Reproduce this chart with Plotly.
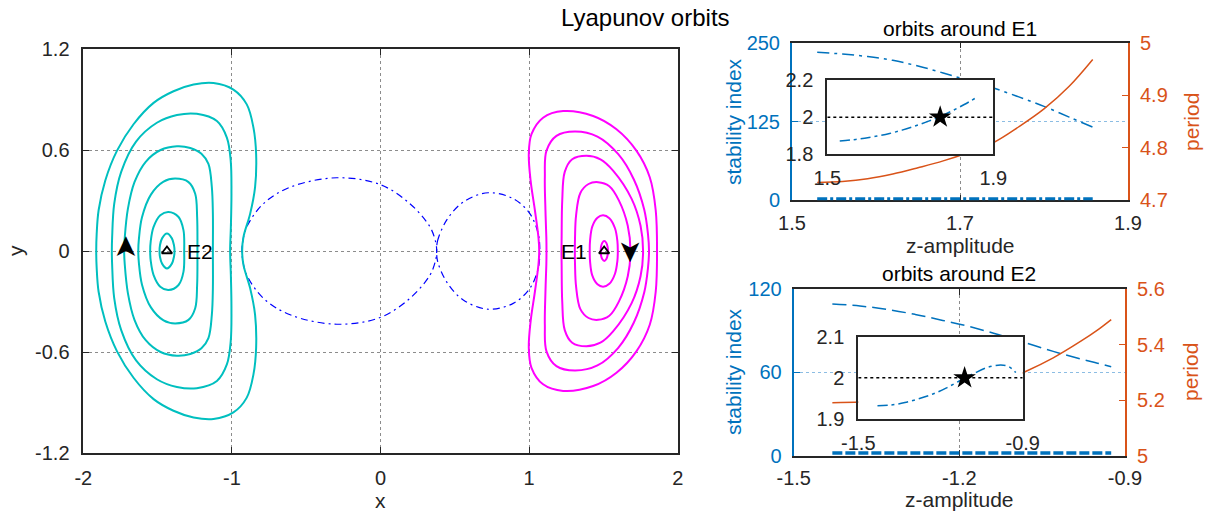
import plotly.graph_objects as go

W, H = 1213, 511
FONT = "Liberation Sans, Arial, Helvetica, sans-serif"
DARK = "#262626"
BLUE = "#0072BD"
ORANGE = "#D95319"
CYAN = "#00BFBF"
MAGENTA = "#FF00FF"
ZVC_BLUE = "#0000FF"
GRID = "#8c8c8c"
LIGHT_BLUE_GRID = "#8cbde3"

# ---------------- main panel: upper halves of the orbits (mirrored about y = 0) ----------------
e2_orbit_1 = [(-1.487, 0.0), (-1.484, 0.035), (-1.470, 0.075), (-1.437, 0.104), (-1.404, 0.075),
              (-1.390, 0.035), (-1.386, 0.0)]
e2_orbit_2 = [(-1.550, 0.0), (-1.546, 0.06), (-1.527, 0.143), (-1.482, 0.212), (-1.427, 0.232),
              (-1.359, 0.202), (-1.326, 0.124), (-1.321, 0.0)]
e2_orbit_3 = [(-1.630, 0.0), (-1.626, 0.07), (-1.605, 0.20), (-1.545, 0.335), (-1.460, 0.412),
              (-1.382, 0.430), (-1.292, 0.409), (-1.247, 0.340), (-1.234, 0.202), (-1.232, 0.0)]
e2_orbit_4 = [(-1.725, 0.0), (-1.721, 0.08), (-1.700, 0.25), (-1.655, 0.41), (-1.580, 0.530),
              (-1.480, 0.600), (-1.370, 0.622), (-1.280, 0.612), (-1.205, 0.578), (-1.158, 0.517),
              (-1.135, 0.379), (-1.128, 0.222), (-1.128, 0.0)]
e2_orbit_5 = [(-1.808, 0.0), (-1.806, 0.08), (-1.792, 0.28), (-1.745, 0.470), (-1.645, 0.650),
              (-1.505, 0.762), (-1.370, 0.808), (-1.236, 0.815), (-1.101, 0.772), (-1.034, 0.674),
              (-1.008, 0.537), (-1.003, 0.340), (-1.007, 0.143), (-1.012, 0.0)]
e2_orbit_6 = [(-1.913, 0.0), (-1.910, 0.10), (-1.897, 0.242), (-1.852, 0.419), (-1.773, 0.596),
              (-1.662, 0.753), (-1.527, 0.880), (-1.393, 0.949), (-1.258, 0.989), (-1.124, 0.998),
              (-0.990, 0.959), (-0.900, 0.871), (-0.855, 0.733), (-0.837, 0.576), (-0.844, 0.379),
              (-0.877, 0.222), (-0.922, 0.084), (-0.931, 0.0)]

e1_orbit_1 = [(1.482, 0.0), (1.484, 0.025), (1.492, 0.048), (1.506, 0.059), (1.520, 0.048),
              (1.528, 0.025), (1.531, 0.0)]
e1_orbit_2 = [(1.408, 0.0), (1.410, 0.06), (1.425, 0.145), (1.460, 0.198), (1.498, 0.212),
              (1.540, 0.195), (1.578, 0.135), (1.594, 0.06), (1.597, 0.0)]
e1_orbit_3 = [(1.308, 0.0), (1.309, 0.08), (1.316, 0.210), (1.345, 0.345), (1.400, 0.398),
              (1.464, 0.409), (1.540, 0.385), (1.604, 0.301), (1.664, 0.150), (1.682, 0.0)]
e1_orbit_4 = [(1.218, 0.0), (1.219, 0.08), (1.223, 0.300), (1.240, 0.470), (1.290, 0.545),
              (1.386, 0.566), (1.480, 0.545), (1.565, 0.478), (1.690, 0.310), (1.750, 0.150),
              (1.767, 0.0)]
e1_orbit_5 = [(1.117, 0.0), (1.116, 0.08), (1.110, 0.242), (1.106, 0.438), (1.117, 0.596),
              (1.184, 0.684), (1.308, 0.710), (1.460, 0.680), (1.600, 0.575), (1.705, 0.425),
              (1.775, 0.245), (1.800, 0.100), (1.807, 0.0)]
e1_orbit_6 = [(1.068, 0.0), (1.063, 0.08), (1.039, 0.242), (1.010, 0.419), (0.998, 0.576),
              (1.016, 0.694), (1.094, 0.792), (1.229, 0.831), (1.431, 0.802), (1.588, 0.723),
              (1.722, 0.596), (1.812, 0.438), (1.852, 0.242), (1.861, 0.0)]

zvc_left = [(-0.933, 0.0), (-0.928, 0.05), (-0.900, 0.143), (-0.788, 0.281), (-0.608, 0.379),
            (-0.294, 0.435), (-0.003, 0.395), (0.198, 0.281), (0.333, 0.143), (0.372, 0.05),
            (0.378, 0.0)]
zvc_right = [(0.378, 0.0), (0.384, 0.06), (0.445, 0.183), (0.557, 0.291), (0.725, 0.346),
             (0.893, 0.311), (1.005, 0.222), (1.061, 0.104), (1.072, 0.0)]

eq_names = ["E1", "E2"]
eq_x = [1.505, -1.437]
eq_y = [0.0, 0.0]
eq_label_x = [1.30, -1.215]
arrow_x = [1.684, -1.722]
arrow_y = [0.0, 0.02]
arrow_angle = [90, -90]  # rotation of a right-pointing arrowhead glyph: 90 = down, -90 = up

main_xticks = [-2, -1, 0, 1, 2]
main_xticktext = ["-2", "-1", "0", "1", "2"]
main_yticks = [-1.2, -0.6, 0, 0.6, 1.2]
main_yticktext = ["-1.2", "-0.6", "0", "0.6", "1.2"]

# ---------------- orbits around E1 ----------------
z1 = [1.53, 1.56, 1.59, 1.62, 1.65, 1.68, 1.71, 1.74, 1.77, 1.80, 1.83, 1.858]
s1_big = [235, 232, 228, 222, 213, 202, 190, 178, 164, 149, 132, 116]
p1 = [4.734, 4.736, 4.741, 4.750, 4.762, 4.775, 4.791, 4.810, 4.840, 4.874, 4.917, 4.968]
s1_small = [1.872, 1.878, 1.887, 1.898, 1.912, 1.930, 1.951, 1.975, 2.001, 2.033, 2.068, 2.104]
star1 = (1.772, 2.0)
e1_xticks = [1.5, 1.7, 1.9]
e1_sticks = [0, 125, 250]
e1_pticks = [4.7, 4.8, 4.9, 5]
inset1_xr = [1.5, 1.9]
inset1_yticks = [1.8, 2.0, 2.2]
inset1_yticktext = ["1.8", "2", "2.2"]

# ---------------- orbits around E2 ----------------
z2 = [-1.43, -1.38, -1.33, -1.28, -1.23, -1.18, -1.13, -1.08, -1.03, -0.98, -0.95, -0.925]
s2_big = [109.2, 107.8, 105.2, 101.7, 97.4, 92.8, 87.2, 81.2, 75.1, 69.6, 66.6, 64.0]
p2 = [5.191, 5.193, 5.198, 5.207, 5.220, 5.238, 5.263, 5.303, 5.352, 5.412, 5.452, 5.490]
s2_small = [1.932, 1.934, 1.940, 1.949, 1.960, 1.975, 1.993, 2.010, 2.025, 2.031, 2.027, 2.013]
star2 = (-1.112, 2.0)
e2_xticks = [-1.5, -1.2, -0.9]
e2_xticktext = ["-1.5", "-1.2", "-0.9"]
e2_sticks = [0, 60, 120]
e2_pticks = [5, 5.2, 5.4, 5.6]
inset2_xr = [-1.5, -0.9]
inset2_yticks = [1.9, 2.0, 2.1]
inset2_yticktext = ["1.9", "2", "2.1"]

threshold = 2.0


def closed(points):
    xs = [p[0] for p in points]
    ys = [p[1] for p in points]
    xs_low = xs[-2::-1]
    ys_low = [-v for v in ys[-2::-1]]
    return xs + xs_low, ys + ys_low


fig = go.Figure()

# ---- main panel ----
for pts in [zvc_left, zvc_right]:
    xs, ys = closed(pts)
    fig.add_trace(go.Scatter(x=xs, y=ys, mode="lines", xaxis="x", yaxis="y",
                             line=dict(color=ZVC_BLUE, width=1.2, dash="7px,4px,2px,4px",
                                       shape="spline", smoothing=1.0)))
for pts in [e2_orbit_1, e2_orbit_2, e2_orbit_3, e2_orbit_4, e2_orbit_5, e2_orbit_6]:
    xs, ys = closed(pts)
    fig.add_trace(go.Scatter(x=xs, y=ys, mode="lines", xaxis="x", yaxis="y",
                             line=dict(color=CYAN, width=2, shape="spline", smoothing=1.0)))
for pts in [e1_orbit_1, e1_orbit_2, e1_orbit_3, e1_orbit_4, e1_orbit_5, e1_orbit_6]:
    xs, ys = closed(pts)
    fig.add_trace(go.Scatter(x=xs, y=ys, mode="lines", xaxis="x", yaxis="y",
                             line=dict(color=MAGENTA, width=2, shape="spline", smoothing=1.0)))
fig.add_trace(go.Scatter(x=eq_x, y=eq_y, mode="markers", xaxis="x", yaxis="y",
                         marker=dict(symbol="triangle-up-open", size=9, color="black",
                                     line=dict(width=1.8, color="black"))))

# ---- E1 panel ----
fig.add_trace(go.Scatter(x=z1, y=s1_big, mode="lines", xaxis="x2", yaxis="y2",
                         line=dict(color=BLUE, width=1.5, dash="12px,5px,3px,5px", shape="spline")))
fig.add_trace(go.Scatter(x=z1, y=s1_small, mode="lines", xaxis="x2", yaxis="y2",
                         line=dict(color=BLUE, width=3.5, dash="10px,3px,3px,3px")))
fig.add_trace(go.Scatter(x=z1, y=p1, mode="lines", xaxis="x2", yaxis="y3",
                         line=dict(color=ORANGE, width=1.5, shape="spline")))

# ---- E2 panel ----
fig.add_trace(go.Scatter(x=z2, y=s2_big, mode="lines", xaxis="x3", yaxis="y4",
                         line=dict(color=BLUE, width=1.5, dash="14px,6px", shape="spline")))
fig.add_trace(go.Scatter(x=z2, y=s2_small, mode="lines", xaxis="x3", yaxis="y4",
                         line=dict(color=BLUE, width=3.5, dash="10px,3px")))
fig.add_trace(go.Scatter(x=z2, y=p2, mode="lines", xaxis="x3", yaxis="y5",
                         line=dict(color=ORANGE, width=1.5, shape="spline")))

# ---- inset 1 ----
fig.add_trace(go.Scatter(x=inset1_xr, y=[threshold, threshold], mode="lines", xaxis="x4", yaxis="y6",
                         line=dict(color="black", width=1.5, dash="dot")))
fig.add_trace(go.Scatter(x=z1, y=s1_small, mode="lines", xaxis="x4", yaxis="y6",
                         line=dict(color=BLUE, width=1.5, dash="10px,4px,3px,4px", shape="spline")))
fig.add_trace(go.Scatter(x=[star1[0]], y=[star1[1]], mode="markers", xaxis="x4", yaxis="y6",
                         marker=dict(symbol="star", size=17, color="black")))

# ---- inset 2 ----
fig.add_trace(go.Scatter(x=inset2_xr, y=[threshold, threshold], mode="lines", xaxis="x5", yaxis="y7",
                         line=dict(color="black", width=1.5, dash="dot")))
fig.add_trace(go.Scatter(x=z2, y=s2_small, mode="lines", xaxis="x5", yaxis="y7",
                         line=dict(color=BLUE, width=1.5, dash="10px,4px,3px,4px", shape="spline")))
fig.add_trace(go.Scatter(x=[star2[0]], y=[star2[1]], mode="markers", xaxis="x5", yaxis="y7",
                         marker=dict(symbol="star", size=17, color="black")))

tickfont = dict(family=FONT, size=20, color=DARK)
blue_font = dict(family=FONT, size=20, color=BLUE)
orange_font = dict(family=FONT, size=20, color=ORANGE)


def box_x(domain, anchor, rng, tickvals, ticktext=None, grid=True, layer="above traces", standoff=6):
    return dict(domain=domain, anchor=anchor, range=rng, tickvals=tickvals,
                ticktext=ticktext if ticktext else [str(v) for v in tickvals],
                ticks="inside", ticklen=6, tickwidth=1, tickcolor=DARK,
                showline=True, linewidth=1.5, linecolor=DARK, mirror="ticks",
                showgrid=grid, gridcolor=GRID, griddash="dot", gridwidth=1,
                zeroline=False, tickfont=tickfont, ticklabelstandoff=standoff, layer=layer)


def fmt(v):
    return "%g" % v


main_x = box_x([83.3 / W, 677.7 / W], "y", [-2, 2], main_xticks, main_xticktext)
main_y = dict(domain=[(H - 453) / H, (H - 49) / H], anchor="x", range=[-1.2, 1.2],
              tickvals=main_yticks, ticktext=main_yticktext,
              ticks="inside", ticklen=6, tickwidth=1, tickcolor=DARK,
              showline=True, linewidth=1.5, linecolor=DARK, mirror="ticks",
              showgrid=True, gridcolor=GRID, griddash="dot", gridwidth=1,
              zeroline=False, tickfont=tickfont, ticklabelstandoff=8)

tr_dom_x = [792 / W, 1128 / W]
tr_dom_y = [(H - 200.3) / H, (H - 42.7) / H]
br_dom_x = [793.7 / W, 1125 / W]
br_dom_y = [(H - 455.7) / H, (H - 289) / H]


def left_axis(domain, anchor, rng, tickvals):
    return dict(domain=domain, anchor=anchor, range=rng, tickvals=tickvals,
                ticktext=[fmt(v) for v in tickvals],
                ticks="inside", ticklen=6, tickcolor=BLUE, showline=True, linewidth=2,
                linecolor=BLUE, mirror=False, showgrid=True, gridcolor=LIGHT_BLUE_GRID,
                griddash="dot", gridwidth=1.2, zeroline=False, tickfont=blue_font,
                ticklabelstandoff=6)


def right_axis(overlay, anchor, rng, tickvals):
    return dict(overlaying=overlay, anchor=anchor, side="right", range=rng, tickvals=tickvals,
                ticktext=[fmt(v) for v in tickvals],
                ticks="inside", ticklen=6, tickcolor=ORANGE, showline=True, linewidth=2,
                linecolor=ORANGE, showgrid=False, zeroline=False, tickfont=orange_font,
                ticklabelstandoff=6)


def inset_x(domain, anchor, rng, ticktext):
    return dict(domain=domain, anchor=anchor, range=rng, tickvals=rng, ticktext=ticktext,
                ticks="", showline=True, linewidth=2, linecolor=DARK, mirror=True,
                showgrid=False, zeroline=False, tickfont=tickfont, ticklabelstandoff=5)


def inset_y(domain, anchor, rng, tickvals, ticktext):
    return dict(domain=domain, anchor=anchor, range=rng, tickvals=tickvals, ticktext=ticktext,
                ticks="", showline=True, linewidth=2, linecolor=DARK, mirror=True,
                showgrid=False, zeroline=False, tickfont=tickfont, ticklabelstandoff=8)


def label(text, px, py, size=21, color=DARK, angle=0):
    return dict(text=text, x=px / W, y=(H - py) / H, xref="paper", yref="paper",
                xanchor="center", yanchor="middle", textangle=angle, showarrow=False,
                font=dict(family=FONT, size=size, color=color))


annotations = [
    label("Lyapunov orbits", 645, 17, size=24, color="black"),
    label("orbits around E1", 960, 28, color="black"),
    label("orbits around E2", 959, 273, color="black"),
    label("x", 380.5, 500),
    label("y", 15, 251, angle=-90),
    label("z-amplitude", 960, 245),
    label("z-amplitude", 959, 499),
    label("stability index", 733, 122, color=BLUE, angle=-90),
    label("stability index", 733, 372, color=BLUE, angle=-90),
    label("period", 1191, 122, color=ORANGE, angle=-90),
    label("period", 1190, 372, color=ORANGE, angle=-90),
]
for name, lx, ly in zip(eq_names, eq_label_x, eq_y):
    annotations.append(dict(text=name, x=lx, y=ly, xref="x", yref="y", showarrow=False,
                            xanchor="center", yanchor="middle",
                            font=dict(family=FONT, size=21, color="black")))
for axx, ayy, ang in zip(arrow_x, arrow_y, arrow_angle):
    annotations.append(dict(text="\u27a4", x=axx, y=ayy, xref="x", yref="y", showarrow=False,
                            xanchor="center", yanchor="middle", textangle=ang,
                            font=dict(family="DejaVu Sans", size=29, color="black")))

fig.update_layout(
    width=W, height=H, margin=dict(l=0, r=0, t=0, b=0),
    template="none", paper_bgcolor="white", plot_bgcolor="white",
    showlegend=False, font=dict(family=FONT, color=DARK),
    xaxis=main_x, yaxis=main_y,
    xaxis2=box_x(tr_dom_x, "y2", [1.5, 1.9], e1_xticks, layer="below traces", standoff=4),
    yaxis2=left_axis(tr_dom_y, "x2", [0, 250], e1_sticks),
    yaxis3=right_axis("y2", "x2", [4.7, 5.0], e1_pticks),
    xaxis3=box_x(br_dom_x, "y4", [-1.5, -0.9], e2_xticks, e2_xticktext, layer="below traces", standoff=4),
    yaxis4=left_axis(br_dom_y, "x3", [0, 120], e2_sticks),
    yaxis5=right_axis("y4", "x3", [5.0, 5.6], e2_pticks),
    xaxis4=inset_x([827.3 / W, 993.3 / W], "y6", inset1_xr, ["1.5", "1.9"]),
    yaxis6=inset_y([(H - 154.3) / H, (H - 80) / H], "x4", [1.8, 2.2], inset1_yticks, inset1_yticktext),
    xaxis5=inset_x([858.3 / W, 1022.7 / W], "y7", inset2_xr, ["-1.5", "-0.9"]),
    yaxis7=inset_y([(H - 419) / H, (H - 336.7) / H], "x5", [1.9, 2.1], inset2_yticks, inset2_yticktext),
    annotations=annotations,
)

fig.write_html("out.html")
